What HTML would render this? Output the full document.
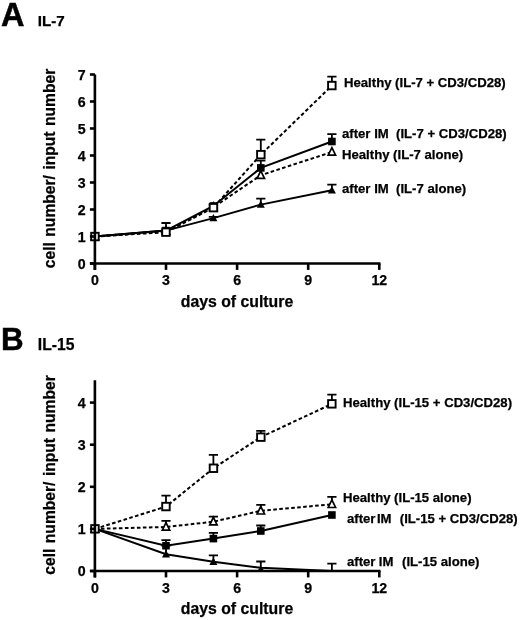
<!DOCTYPE html>
<html><head><meta charset="utf-8"><title>Figure</title>
<style>html,body{margin:0;padding:0;background:#fff}svg{display:block}</style>
</head><body>
<svg width="520" height="620" viewBox="0 0 520 620">
<style>
text{stroke:#000;stroke-width:0.25px;font-family:"Liberation Sans",Arial,Helvetica,sans-serif;font-weight:bold;fill:#000}
.tk{font-size:14.2px}
.lg{font-size:13.15px}
.ax{font-size:15.8px}
.pl{font-size:32.5px;stroke-width:0.5px}
.st{font-size:15.2px}
</style>
<rect width="520" height="620" fill="#fff"/>
<text x="0.9" y="26.1" class="pl">A</text>
<text x="37.8" y="26.3" class="st">IL-7</text>
<path d="M94.9,236.5 L166.0,230.6 L213.4,218.1 L260.8,204.6 L331.9,190.3" fill="none" stroke="#000" stroke-width="2"/>
<path d="M94.9,236.5 L166.0,230.6 L213.4,206.0 L260.8,167.9 L331.9,141.5" fill="none" stroke="#000" stroke-width="2"/>
<path d="M94.9,236.5 L166.0,231.1 L213.4,207.3 L260.8,175.2 L331.9,152.0" fill="none" stroke="#000" stroke-width="2" stroke-dasharray="3.6,2.4"/>
<path d="M94.9,236.5 L166.0,232.2 L213.4,207.6 L260.8,154.7 L331.9,85.6" fill="none" stroke="#000" stroke-width="2" stroke-dasharray="3.6,2.4"/>
<path d="M213.4,218.1V216.8M208.8,216.8H218.0" fill="none" stroke="#000" stroke-width="1.8"/>
<path d="M260.8,204.6V198.7M256.2,198.7H265.4" fill="none" stroke="#000" stroke-width="1.8"/>
<path d="M331.9,190.3V184.7M327.3,184.7H336.5" fill="none" stroke="#000" stroke-width="1.8"/>
<path d="M94.9,232.3L98.9,239.7H90.9Z" fill="#000"/>
<path d="M166.0,226.4L170.0,233.8H162.0Z" fill="#000"/>
<path d="M213.4,213.9L217.4,221.3H209.4Z" fill="#000"/>
<path d="M260.8,200.4L264.8,207.8H256.8Z" fill="#000"/>
<path d="M331.9,186.1L335.9,193.5H327.9Z" fill="#000"/>
<path d="M260.8,167.9V160.6M256.2,160.6H265.4" fill="none" stroke="#000" stroke-width="1.8"/>
<path d="M331.9,141.5V134.2M327.3,134.2H336.5" fill="none" stroke="#000" stroke-width="1.8"/>
<rect x="91.1" y="232.7" width="7.6" height="7.6" fill="#000"/>
<rect x="162.2" y="226.8" width="7.6" height="7.6" fill="#000"/>
<rect x="209.6" y="202.2" width="7.6" height="7.6" fill="#000"/>
<rect x="257.0" y="164.1" width="7.6" height="7.6" fill="#000"/>
<rect x="328.1" y="137.7" width="7.6" height="7.6" fill="#000"/>
<path d="M94.9,232.1L98.6,239.7H91.2Z" fill="#fff" stroke="#000" stroke-width="1.7"/>
<path d="M166.0,226.7L169.7,234.3H162.3Z" fill="#fff" stroke="#000" stroke-width="1.7"/>
<path d="M213.4,202.9L217.1,210.5H209.7Z" fill="#fff" stroke="#000" stroke-width="1.7"/>
<path d="M260.8,170.8L264.5,178.4H257.1Z" fill="#fff" stroke="#000" stroke-width="1.7"/>
<path d="M331.9,147.6L335.6,155.2H328.2Z" fill="#fff" stroke="#000" stroke-width="1.7"/>
<path d="M166.0,232.2V223.0M161.4,223.0H170.6" fill="none" stroke="#000" stroke-width="1.8"/>
<path d="M213.4,207.6V204.9M208.8,204.9H218.0" fill="none" stroke="#000" stroke-width="1.8"/>
<path d="M260.8,154.7V139.6M256.2,139.6H265.4" fill="none" stroke="#000" stroke-width="1.8"/>
<path d="M331.9,85.6V76.7M327.3,76.7H336.5" fill="none" stroke="#000" stroke-width="1.8"/>
<rect x="91.2" y="232.8" width="7.5" height="7.5" fill="#fff" stroke="#000" stroke-width="1.9"/>
<rect x="162.2" y="228.4" width="7.5" height="7.5" fill="#fff" stroke="#000" stroke-width="1.9"/>
<rect x="209.7" y="203.9" width="7.5" height="7.5" fill="#fff" stroke="#000" stroke-width="1.9"/>
<rect x="257.1" y="150.9" width="7.5" height="7.5" fill="#fff" stroke="#000" stroke-width="1.9"/>
<rect x="328.1" y="81.8" width="7.5" height="7.5" fill="#fff" stroke="#000" stroke-width="1.9"/>
<path d="M94.9,74.5V269.9M89.9,263.5H380.5" fill="none" stroke="#000" stroke-width="2.6"/>
<path d="M89.9,263.5H94.9" stroke="#000" stroke-width="2.6"/>
<text x="85.7" y="268.8" text-anchor="end" class="tk">0</text>
<path d="M89.9,236.5H94.9" stroke="#000" stroke-width="2.6"/>
<text x="85.7" y="241.8" text-anchor="end" class="tk">1</text>
<path d="M89.9,209.5H94.9" stroke="#000" stroke-width="2.6"/>
<text x="85.7" y="214.8" text-anchor="end" class="tk">2</text>
<path d="M89.9,182.5H94.9" stroke="#000" stroke-width="2.6"/>
<text x="85.7" y="187.8" text-anchor="end" class="tk">3</text>
<path d="M89.9,155.5H94.9" stroke="#000" stroke-width="2.6"/>
<text x="85.7" y="160.8" text-anchor="end" class="tk">4</text>
<path d="M89.9,128.5H94.9" stroke="#000" stroke-width="2.6"/>
<text x="85.7" y="133.8" text-anchor="end" class="tk">5</text>
<path d="M89.9,101.5H94.9" stroke="#000" stroke-width="2.6"/>
<text x="85.7" y="106.8" text-anchor="end" class="tk">6</text>
<path d="M89.9,74.5H94.9" stroke="#000" stroke-width="2.6"/>
<text x="85.7" y="79.8" text-anchor="end" class="tk">7</text>
<path d="M94.9,263.5V269.9" stroke="#000" stroke-width="2.6"/>
<text x="94.9" y="285.1" text-anchor="middle" class="tk">0</text>
<path d="M166.0,263.5V269.9" stroke="#000" stroke-width="2.6"/>
<text x="166.0" y="285.1" text-anchor="middle" class="tk">3</text>
<path d="M237.1,263.5V269.9" stroke="#000" stroke-width="2.6"/>
<text x="237.1" y="285.1" text-anchor="middle" class="tk">6</text>
<path d="M308.2,263.5V269.9" stroke="#000" stroke-width="2.6"/>
<text x="308.2" y="285.1" text-anchor="middle" class="tk">9</text>
<path d="M379.3,263.5V269.9" stroke="#000" stroke-width="2.6"/>
<text x="379.3" y="285.1" text-anchor="middle" class="tk">12</text>
<text transform="translate(55,168.5) rotate(-90)" text-anchor="middle" class="ax" style="font-size:15.6px;word-spacing:1.2px">cell number/ input number</text>
<text x="237" y="307" text-anchor="middle" class="ax">days of culture</text>
<text x="344" y="87.4" class="lg">Healthy (IL-7 + CD3/CD28)</text>
<text x="342" y="138" class="lg" xml:space="preserve" style="white-space:pre">after IM  (IL-7 + CD3/CD28)</text>
<text x="342" y="158.7" class="lg">Healthy (IL-7 alone)</text>
<text x="342" y="192.7" class="lg" xml:space="preserve" style="white-space:pre">after IM  (IL-7 alone)</text>
<text x="0.9" y="349.8" class="pl" style="font-size:31.3px">B</text>
<text x="37.8" y="349.8" class="st" style="font-size:15.7px">IL-15</text>
<path d="M94.9,528.9 L166.0,554.2 L213.4,561.7 L260.8,567.8 L331.9,571.0" fill="none" stroke="#000" stroke-width="2"/>
<path d="M94.9,528.9 L166.0,545.7 L213.4,538.6 L260.8,531.0 L331.9,515.0" fill="none" stroke="#000" stroke-width="2"/>
<path d="M94.9,528.9 L166.0,527.0 L213.4,521.7 L260.8,510.8 L331.9,504.3" fill="none" stroke="#000" stroke-width="2" stroke-dasharray="3.6,2.4"/>
<path d="M94.9,528.9 L166.0,506.6 L213.4,468.3 L260.8,437.1 L331.9,403.9" fill="none" stroke="#000" stroke-width="2" stroke-dasharray="3.6,2.4"/>
<path d="M166.0,554.2V545.7M161.4,545.7H170.6" fill="none" stroke="#000" stroke-width="1.8"/>
<path d="M213.4,561.7V555.4M208.8,555.4H218.0" fill="none" stroke="#000" stroke-width="1.8"/>
<path d="M260.8,567.8V561.5M256.2,561.5H265.4" fill="none" stroke="#000" stroke-width="1.8"/>
<path d="M331.9,571.0V563.6M327.3,563.6H336.5" fill="none" stroke="#000" stroke-width="1.8"/>
<path d="M94.9,524.7L98.9,532.1H90.9Z" fill="#000"/>
<path d="M166.0,550.0L170.0,557.4H162.0Z" fill="#000"/>
<path d="M213.4,557.5L217.4,564.9H209.4Z" fill="#000"/>
<path d="M166.0,545.7V540.1M161.4,540.1H170.6" fill="none" stroke="#000" stroke-width="1.8"/>
<path d="M213.4,538.6V532.9M208.8,532.9H218.0" fill="none" stroke="#000" stroke-width="1.8"/>
<path d="M260.8,531.0V525.5M256.2,525.5H265.4" fill="none" stroke="#000" stroke-width="1.8"/>
<rect x="91.1" y="525.1" width="7.6" height="7.6" fill="#000"/>
<rect x="162.2" y="541.9" width="7.6" height="7.6" fill="#000"/>
<rect x="209.6" y="534.8" width="7.6" height="7.6" fill="#000"/>
<rect x="257.0" y="527.2" width="7.6" height="7.6" fill="#000"/>
<rect x="328.1" y="511.2" width="7.6" height="7.6" fill="#000"/>
<path d="M166.0,527.0V520.9M161.4,520.9H170.6" fill="none" stroke="#000" stroke-width="1.8"/>
<path d="M213.4,521.7V516.7M208.8,516.7H218.0" fill="none" stroke="#000" stroke-width="1.8"/>
<path d="M260.8,510.8V504.9M256.2,504.9H265.4" fill="none" stroke="#000" stroke-width="1.8"/>
<path d="M331.9,504.3V496.9M327.3,496.9H336.5" fill="none" stroke="#000" stroke-width="1.8"/>
<path d="M94.9,524.5L98.6,532.1H91.2Z" fill="#fff" stroke="#000" stroke-width="1.7"/>
<path d="M166.0,522.6L169.7,530.2H162.3Z" fill="#fff" stroke="#000" stroke-width="1.7"/>
<path d="M213.4,517.3L217.1,524.9H209.7Z" fill="#fff" stroke="#000" stroke-width="1.7"/>
<path d="M260.8,506.4L264.5,514.0H257.1Z" fill="#fff" stroke="#000" stroke-width="1.7"/>
<path d="M331.9,499.9L335.6,507.5H328.2Z" fill="#fff" stroke="#000" stroke-width="1.7"/>
<path d="M166.0,506.6V495.6M161.4,495.6H170.6" fill="none" stroke="#000" stroke-width="1.8"/>
<path d="M213.4,468.3V454.8M208.8,454.8H218.0" fill="none" stroke="#000" stroke-width="1.8"/>
<path d="M260.8,437.1V430.8M256.2,430.8H265.4" fill="none" stroke="#000" stroke-width="1.8"/>
<path d="M331.9,403.9V394.6M327.3,394.6H336.5" fill="none" stroke="#000" stroke-width="1.8"/>
<rect x="91.2" y="525.1" width="7.5" height="7.5" fill="#fff" stroke="#000" stroke-width="1.9"/>
<rect x="162.2" y="502.8" width="7.5" height="7.5" fill="#fff" stroke="#000" stroke-width="1.9"/>
<rect x="209.7" y="464.5" width="7.5" height="7.5" fill="#fff" stroke="#000" stroke-width="1.9"/>
<rect x="257.1" y="433.4" width="7.5" height="7.5" fill="#fff" stroke="#000" stroke-width="1.9"/>
<rect x="328.1" y="400.1" width="7.5" height="7.5" fill="#fff" stroke="#000" stroke-width="1.9"/>
<path d="M260.9,566.6L264.6,571H257.2Z" fill="#000"/>
<path d="M94.9,380.3V577.4M89.9,571.0H380.5" fill="none" stroke="#000" stroke-width="2.6"/>
<path d="M89.9,571.0H94.9" stroke="#000" stroke-width="2.6"/>
<text x="85.7" y="576.3" text-anchor="end" class="tk">0</text>
<path d="M89.9,528.9H94.9" stroke="#000" stroke-width="2.6"/>
<text x="85.7" y="534.2" text-anchor="end" class="tk">1</text>
<path d="M89.9,486.8H94.9" stroke="#000" stroke-width="2.6"/>
<text x="85.7" y="492.1" text-anchor="end" class="tk">2</text>
<path d="M89.9,444.7H94.9" stroke="#000" stroke-width="2.6"/>
<text x="85.7" y="450.0" text-anchor="end" class="tk">3</text>
<path d="M89.9,402.6H94.9" stroke="#000" stroke-width="2.6"/>
<text x="85.7" y="407.9" text-anchor="end" class="tk">4</text>
<path d="M94.9,571.0V577.4" stroke="#000" stroke-width="2.6"/>
<text x="94.9" y="592.6" text-anchor="middle" class="tk">0</text>
<path d="M166.0,571.0V577.4" stroke="#000" stroke-width="2.6"/>
<text x="166.0" y="592.6" text-anchor="middle" class="tk">3</text>
<path d="M237.1,571.0V577.4" stroke="#000" stroke-width="2.6"/>
<text x="237.1" y="592.6" text-anchor="middle" class="tk">6</text>
<path d="M308.2,571.0V577.4" stroke="#000" stroke-width="2.6"/>
<text x="308.2" y="592.6" text-anchor="middle" class="tk">9</text>
<path d="M379.3,571.0V577.4" stroke="#000" stroke-width="2.6"/>
<text x="379.3" y="592.6" text-anchor="middle" class="tk">12</text>
<text transform="translate(55,475) rotate(-90)" text-anchor="middle" class="ax" style="font-size:15.6px;word-spacing:1.2px">cell number/ input number</text>
<text x="237" y="614" text-anchor="middle" class="ax">days of culture</text>
<text x="343" y="407" class="lg">Healthy (IL-15 + CD3/CD28)</text>
<text x="343" y="502" class="lg">Healthy (IL-15 alone)</text>
<text x="347" y="523" class="lg">after <tspan x="376.9">IM </tspan><tspan x="399.8">(IL-15 + CD3/CD28)</tspan></text>
<text x="347" y="566" class="lg">after <tspan x="378.8">IM </tspan><tspan x="402">(IL-15 alone)</tspan></text>
</svg>
</body></html>
